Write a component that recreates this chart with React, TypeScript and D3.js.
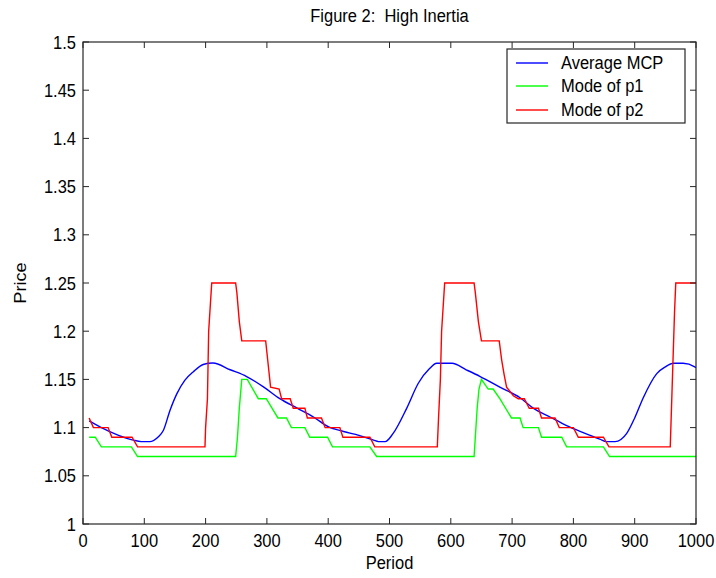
import React from "react";
import * as d3 from "d3";

const mcpPeriod = [10, 30, 58, 82, 95, 109, 123, 131, 142, 153, 166, 180, 196, 212, 240, 267, 295, 321, 350, 376, 400, 425, 450, 474, 482, 493, 506, 528, 547, 565, 577, 602, 625, 648, 680, 713, 735, 762, 789, 815, 843, 854, 868, 887, 900, 914, 936, 950, 963, 979, 998, 1000];
const mcpValue = [1.107, 1.1, 1.092, 1.087, 1.0855, 1.0855, 1.0906, 1.097, 1.118, 1.135, 1.149, 1.158, 1.1655, 1.167, 1.16, 1.153, 1.142, 1.13, 1.12, 1.111, 1.101, 1.096, 1.092, 1.087, 1.0855, 1.0855, 1.094, 1.12, 1.146, 1.161, 1.1667, 1.1667, 1.16, 1.153, 1.142, 1.131, 1.12, 1.111, 1.102, 1.095, 1.088, 1.0855, 1.0855, 1.094, 1.11, 1.131, 1.156, 1.163, 1.1667, 1.1667, 1.163, 1.162];

const p1Period = [10, 20, 30, 79, 89, 249, 252, 255, 259, 268, 286, 299, 318, 332, 340, 362, 370, 399, 407, 468, 479, 638, 640, 643, 646, 650, 661, 669, 680, 699, 713, 718, 743, 748, 781, 789, 849, 859, 1000];
const p1Value = [1.09, 1.09, 1.08, 1.08, 1.07, 1.07, 1.09, 1.12, 1.15, 1.15, 1.13, 1.13, 1.11, 1.11, 1.1, 1.1, 1.09, 1.09, 1.08, 1.08, 1.07, 1.07, 1.09, 1.12, 1.14, 1.15, 1.14, 1.14, 1.13, 1.11, 1.11, 1.1, 1.1, 1.09, 1.09, 1.08, 1.08, 1.07, 1.07];

const p2Period = [10, 17, 41, 47, 80, 89, 199, 200, 203, 205, 210, 249, 251, 255, 259, 298, 302, 306, 320, 324, 338, 343, 362, 366, 389, 395, 419, 424, 468, 476, 578, 580, 583, 585, 590, 638, 640, 645, 650, 679, 683, 687, 691, 702, 710, 720, 728, 743, 748, 770, 777, 800, 808, 849, 858, 958, 961, 963, 965, 967, 1000];
const p2Value = [1.11, 1.1, 1.1, 1.09, 1.09, 1.08, 1.08, 1.1, 1.13, 1.2, 1.25, 1.25, 1.24, 1.21, 1.19, 1.19, 1.166, 1.142, 1.14, 1.13, 1.13, 1.12, 1.12, 1.11, 1.11, 1.1, 1.1, 1.09, 1.09, 1.08, 1.08, 1.11, 1.15, 1.2, 1.25, 1.25, 1.24, 1.21, 1.19, 1.19, 1.17, 1.155, 1.142, 1.133, 1.13, 1.13, 1.12, 1.12, 1.11, 1.11, 1.1, 1.1, 1.09, 1.09, 1.08, 1.08, 1.14, 1.18, 1.22, 1.25, 1.25];

const xTicks = [0, 100, 200, 300, 400, 500, 600, 700, 800, 900, 1000];
const yTicks = [1, 1.05, 1.1, 1.15, 1.2, 1.25, 1.3, 1.35, 1.4, 1.45, 1.5];
const seriesNames = ["Average MCP", "Mode of p1", "Mode of p2"];
const seriesColors = ["#0000ff", "#00ff00", "#ff0000"];

const W = 716, H = 578;
const L = 83, R = 696, T = 42, B = 524;
const FONT = "'Liberation Sans', Arial, Helvetica, sans-serif";
const FS = 16.5;
const SY = 1.1;
const AX = "#262626";

function T2({ x, y, anchor, children, size = FS }: any) {
  return (
    <g transform={`translate(${x},${y}) scale(1,${SY})`}>
      <text x={0} y={0} textAnchor={anchor} fontFamily={FONT} fontSize={size} fill="#000" style={{ whiteSpace: "pre" }}>{children}</text>
    </g>
  );
}

export default function App() {
  const x = d3.scaleLinear().domain([0, 1000]).range([L, R]);
  const y = d3.scaleLinear().domain([1, 1.5]).range([B, T]);
  const line = d3.line<[number, number]>().x(d => x(d[0])).y(d => y(d[1]));
  const smooth = d3.line<[number, number]>().x(d => x(d[0])).y(d => y(d[1])).curve(d3.curveMonotoneX);
  const series = [
    mcpPeriod.map((p, i) => [p, mcpValue[i]] as [number, number]),
    p1Period.map((p, i) => [p, p1Value[i]] as [number, number]),
    p2Period.map((p, i) => [p, p2Value[i]] as [number, number]),
  ];
  const tl = 6;
  const legX = 507, legY = 49, legW = 178, legH = 74;
  const rows = [63, 86, 110];
  return (
    <svg width={W} height={H} style={{ position: "absolute", left: 0, top: 0, background: "#fff" }}>
      <rect x={0} y={0} width={W} height={H} fill="#fff" />
      <defs>
        <clipPath id="clip"><rect x={L} y={T} width={R - L} height={B - T} /></clipPath>
      </defs>
      <g clipPath="url(#clip)">
        {series.map((s, i) => (
          <path key={i} d={(i === 0 ? smooth(s) : line(s)) || ""} fill="none" stroke={seriesColors[i]} strokeWidth={1.4} />
        ))}
      </g>
      <rect x={L} y={T} width={R - L} height={B - T} fill="none" stroke={AX} strokeWidth={1.2} />
      {xTicks.map(t => (
        <g key={"x" + t}>
          <line x1={x(t)} x2={x(t)} y1={B} y2={B - tl} stroke={AX} />
          <line x1={x(t)} x2={x(t)} y1={T} y2={T + tl} stroke={AX} />
          <T2 x={x(t)} y={547} anchor="middle">{String(t)}</T2>
        </g>
      ))}
      {yTicks.map(t => (
        <g key={"y" + t}>
          <line x1={L} x2={L + tl} y1={y(t)} y2={y(t)} stroke={AX} />
          <line x1={R} x2={R - tl} y1={y(t)} y2={y(t)} stroke={AX} />
          <T2 x={76} y={y(t) + 6.5} anchor="end">{String(+t.toFixed(2))}</T2>
        </g>
      ))}
      <T2 x={(L + R) / 2} y={22} anchor="middle" size={16.5}>{"Figure 2:  High Inertia"}</T2>
      <g transform={`translate(${(L + R) / 2},569) scale(1,${SY})`}>
        <text textAnchor="middle" fontFamily={FONT} fontSize={FS}>Period</text>
      </g>
      <g transform={`translate(26,${(T + B) / 2}) rotate(-90) scale(${SY},1)`}>
        <text textAnchor="middle" fontFamily={FONT} fontSize={FS}>Price</text>
      </g>
      <rect x={legX} y={legY} width={legW} height={legH} fill="#fff" stroke={AX} strokeWidth={1.2} />
      {seriesNames.map((n, i) => (
        <g key={n}>
          <line x1={516} x2={548} y1={rows[i]} y2={rows[i]} stroke={seriesColors[i]} strokeWidth={1.4} />
          <T2 x={561} y={rows[i] + 6} anchor="start">{n}</T2>
        </g>
      ))}
    </svg>
  );
}
